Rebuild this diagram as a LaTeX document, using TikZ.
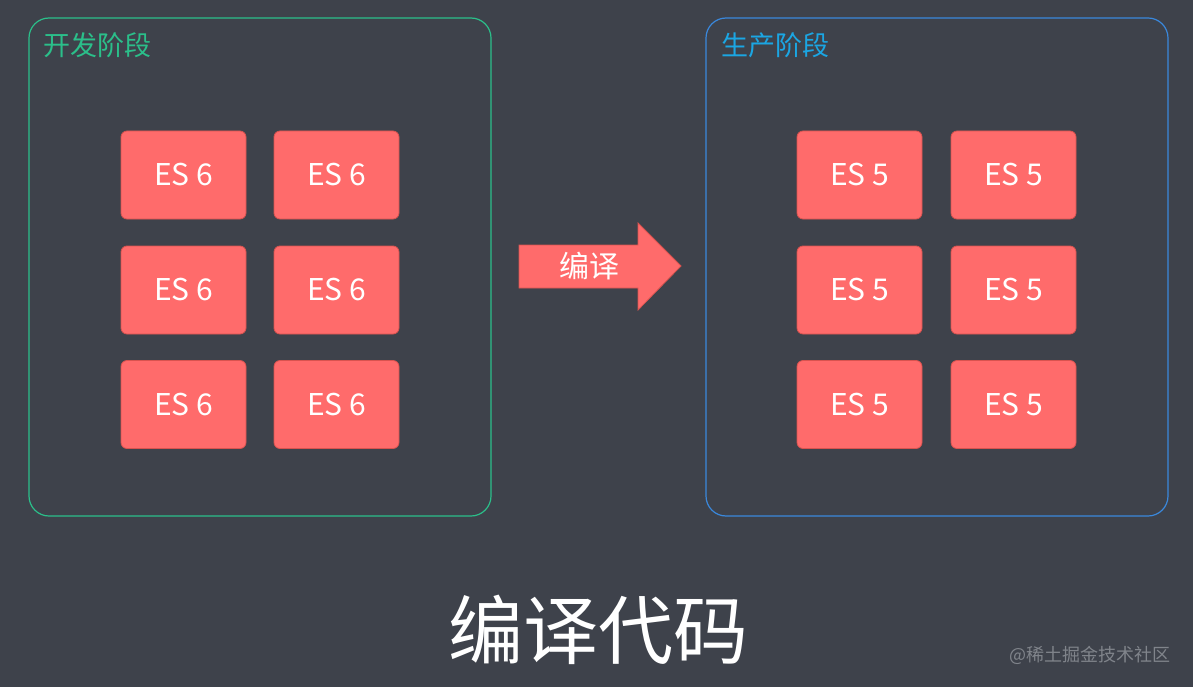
\documentclass[tikz,border=0pt]{standalone}
\usepackage{fontspec}
\setmainfont{Noto Sans CJK SC}
\definecolor{bg}{HTML}{3E424B}
\definecolor{esfill}{HTML}{FF6B6B}
\definecolor{esdraw}{HTML}{D9534F}
\definecolor{greenc}{HTML}{2BBF8A}
\definecolor{bluec}{HTML}{3A88DC}
\definecolor{bluet}{HTML}{1BA6E3}
\definecolor{wm}{HTML}{80848B}
\tikzset{
  esbox/.style={draw=esdraw, line width=0.8pt, fill=esfill, rounded corners=6pt,
    minimum width=125pt, minimum height=88pt, inner sep=0pt,
    text=white, font=\fontsize{30}{33}\selectfont},
  stage/.style={line width=1.2pt, rounded corners=20pt},
  stagelabel/.style={anchor=west, inner sep=0pt, font=\fontsize{27}{30}\selectfont}
}
\begin{document}
\begin{tikzpicture}[x=1pt,y=-1pt]
\fill[bg] (0,0) rectangle (1193,687);
\useasboundingbox (0,0) rectangle (1193,687);
% stage frames
\draw[stage, greenc] (29,18) rectangle (491,516);
\draw[stage, bluec] (706,18) rectangle (1168,516);
\node[stagelabel, text=greenc] (devlabel) at (43,45) {开发阶段};
\node[stagelabel, text=bluet] (prodlabel) at (721,45) {生产阶段};
% ES6 boxes
\node[esbox] (a1) at (183.5,175) {ES 6};
\node[esbox] (a2) at (336.5,175) {ES 6};
\node[esbox] (a3) at (183.5,290) {ES 6};
\node[esbox] (a4) at (336.5,290) {ES 6};
\node[esbox] (a5) at (183.5,404.5) {ES 6};
\node[esbox] (a6) at (336.5,404.5) {ES 6};
% ES5 boxes
\node[esbox] (b1) at (859.5,175) {ES 5};
\node[esbox] (b2) at (1013.5,175) {ES 5};
\node[esbox] (b3) at (859.5,290) {ES 5};
\node[esbox] (b4) at (1013.5,290) {ES 5};
\node[esbox] (b5) at (859.5,404.5) {ES 5};
\node[esbox] (b6) at (1013.5,404.5) {ES 5};
% arrow
\draw[fill=esfill, draw=esdraw, line width=0.8pt]
  (519,245) -- (638,245) -- (638,223) -- (681,266) -- (638,310) -- (638,288) -- (519,288) -- cycle;
\node[text=white, font=\fontsize{30}{33}\selectfont, inner sep=0pt] (arrlabel) at (589,266) {编译};
% title
\node[text=white, font=\fontsize{75}{82}\selectfont, inner sep=0pt] (title) at (598,630) {编译代码};
% watermark
\node[text=wm, font=\fontsize{18}{20}\selectfont, inner sep=0pt, anchor=east] (watermark) at (1171,655) {@稀土掘金技术社区};
\end{tikzpicture}
\end{document}
